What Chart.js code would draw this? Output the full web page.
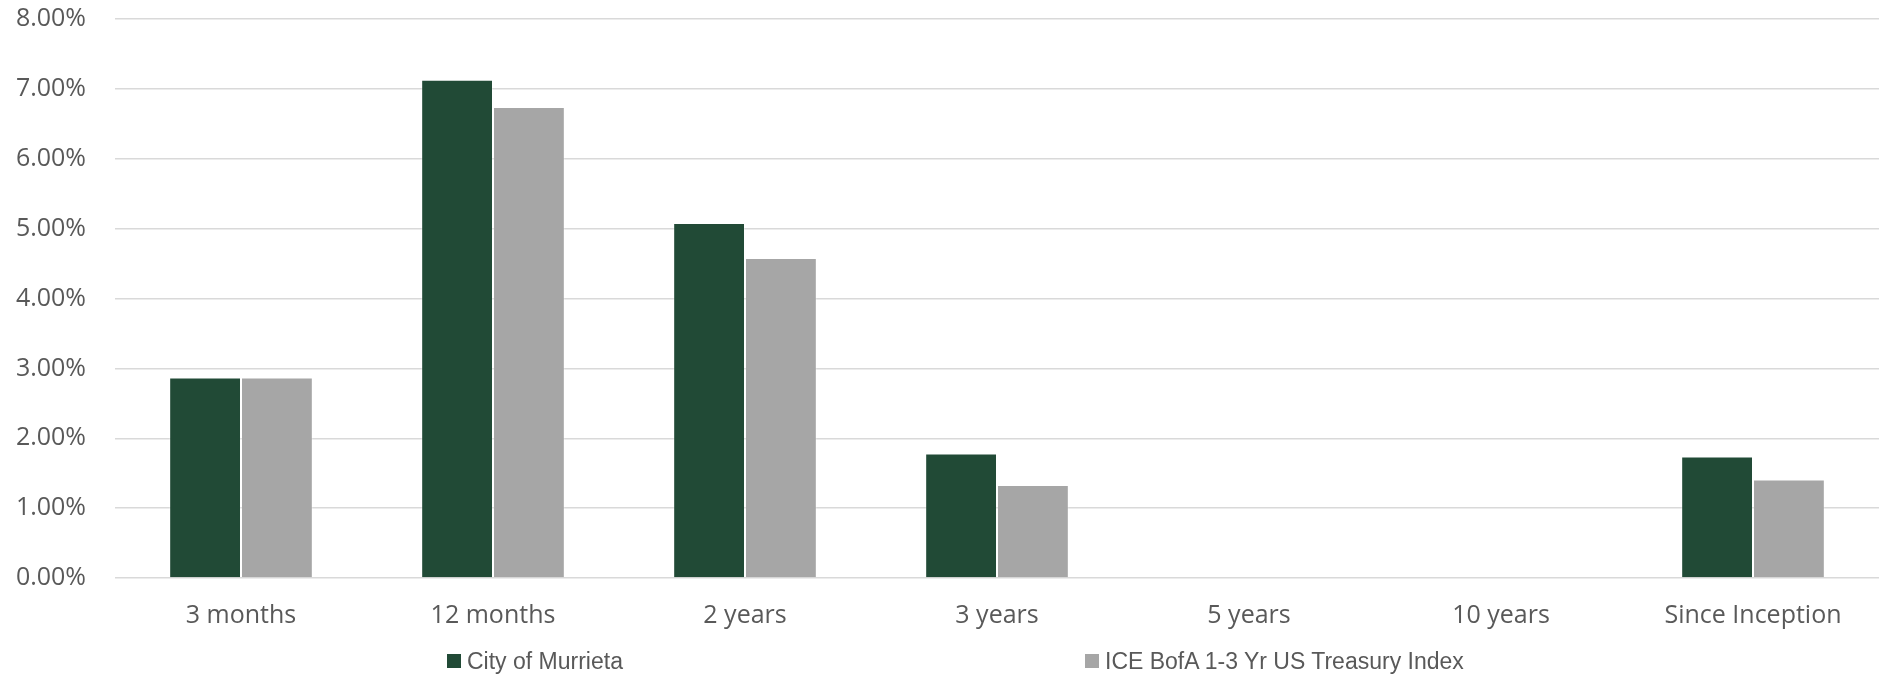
<!DOCTYPE html>
<html>
<head>
<meta charset="utf-8">
<script src="https://cdn.jsdelivr.net/npm/chart.js@4/dist/chart.umd.min.js"></script>
<style>
  html, body { margin: 0; padding: 0; background: #ffffff; }
  #wrap { position: relative; width: 1884px; height: 678px; }
  #legend { position: absolute; left: 0; top: 646px; width: 1884px; height: 30px;
            font-family: "Liberation Sans", Arial, sans-serif; font-size: 23px; color: #595959; }
  .item { position: absolute; top: 0; display: flex; align-items: center; height: 30px; white-space: nowrap; }
  .swatch { width: 14px; height: 14px; margin-right: 6px; }
</style>
</head>
<body>
<div id="wrap">
  <canvas id="chart"></canvas>
  <div id="legend"></div>
</div>
<script>
// Return periods
const categories = ['3 months', '12 months', '2 years', '3 years', '5 years', '10 years', 'Since Inception'];
// Returns in percent (no figure for 5 and 10 years)
const cityReturns  = [2.87, 7.13, 5.08, 1.78, null, null, 1.74];
const indexReturns = [2.87, 6.74, 4.58, 1.33, null, null, 1.41];
const seriesNames  = ['City of Murrieta', 'ICE BofA 1-3 Yr US Treasury Index'];
const seriesColors = ['#214A36', '#A6A6A6'];
const yTicks = [0, 1, 2, 3, 4, 5, 6, 7, 8];

const textColor = '#595959';
const font = { family: '"Open Sans", sans-serif', size: 25 };

new Chart(document.getElementById('chart'), {
  type: 'bar',
  data: {
    labels: categories,
    datasets: [
      { label: seriesNames[0], data: cityReturns, backgroundColor: seriesColors[0] },
      { label: seriesNames[1], data: indexReturns, backgroundColor: seriesColors[1] }
    ]
  },
  options: {
    responsive: true,
    maintainAspectRatio: false,
    animation: false,
    layout: { padding: { left: 15, right: 5, top: 19, bottom: 0 } },
    datasets: { bar: { categoryPercentage: 0.57, barPercentage: 1.0,
                       borderWidth: 1, borderColor: 'rgba(255,255,255,0.3)' } },
    plugins: { legend: { display: false }, tooltip: { enabled: false } },
    scales: {
      x: {
        grid: { display: false, drawTicks: false },
        border: { display: false },
        ticks: { color: textColor, font: font, padding: 23, maxRotation: 0 },
        afterFit: s => { s.height = 100; }
      },
      y: {
        min: 0, max: 8,
        afterBuildTicks: s => { s.ticks = yTicks.map(v => ({ value: v })); },
        // invisible tick marks keep the gap between labels and grid
        grid: { color: '#D9D9D9', lineWidth: 1.5, drawTicks: true, tickLength: 29,
                tickColor: 'rgba(0,0,0,0)' },
        border: { display: false },
        ticks: { color: textColor, font: font, padding: 0,
                 callback: v => v.toFixed(2) + '%' },
        afterFit: s => { s.width = 100; }
      }
    }
  }
});

// Legend row
const legendX = [447, 1085];
const legend = document.getElementById('legend');
seriesNames.forEach((name, i) => {
  const item = document.createElement('div');
  item.className = 'item';
  item.style.left = legendX[i] + 'px';
  const sw = document.createElement('span');
  sw.className = 'swatch';
  sw.style.background = seriesColors[i];
  const tx = document.createElement('span');
  tx.textContent = name;
  item.appendChild(sw);
  item.appendChild(tx);
  legend.appendChild(item);
});
</script>
</body>
</html>
